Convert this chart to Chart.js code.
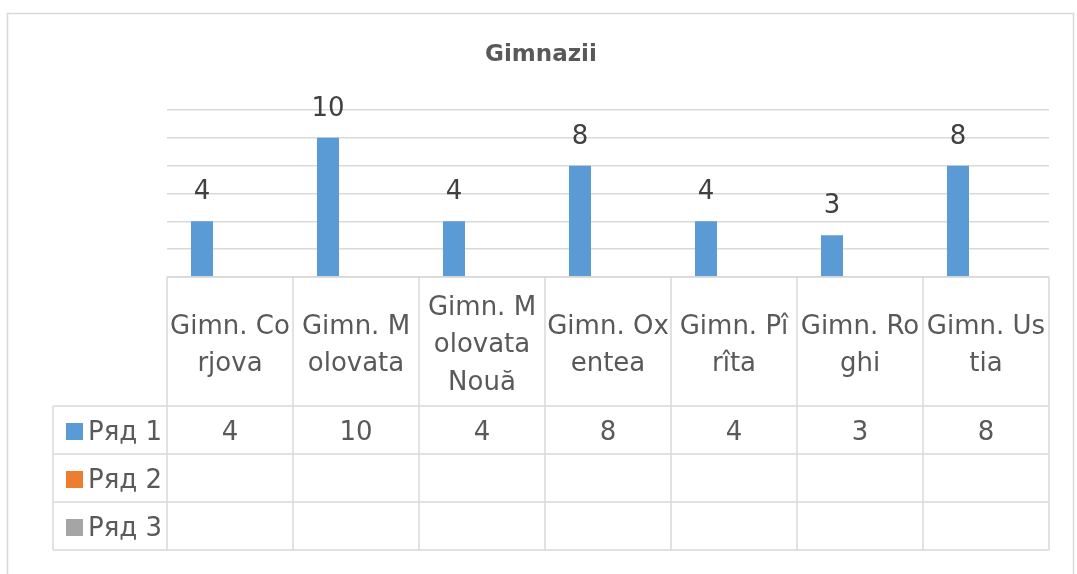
<!DOCTYPE html>
<html>
<head>
<meta charset="utf-8">
<title>Gimnazii</title>
<script src="https://cdn.jsdelivr.net/npm/chart.js@4.4.1/dist/chart.umd.min.js"></script>
<style>
  html, body { margin: 0; padding: 0; background: #ffffff; }
  #wrap { width: 1077px; height: 574px; position: relative; }
</style>
</head>
<body>
<div id="wrap"><canvas id="chart" width="1077" height="574"></canvas></div>
<script>
const chartTitle = "Gimnazii";
const categories = [
  "Gimn. Corjova", "Gimn. Molovata", "Gimn. Molovata Nouă",
  "Gimn. Oxentea", "Gimn. Pîrîta", "Gimn. Roghi", "Gimn. Ustia"
];
// wrapped the same way as in the data table of the picture
const categoryLines = [
  ["Gimn. Co", "rjova"],
  ["Gimn. M", "olovata"],
  ["Gimn. M", "olovata", "Nouă"],
  ["Gimn. Ox", "entea"],
  ["Gimn. Pî", "rîta"],
  ["Gimn. Ro", "ghi"],
  ["Gimn. Us", "tia"]
];
const seriesNames = ["Ряд 1", "Ряд 2", "Ряд 3"];
const series1 = [4, 10, 4, 8, 4, 3, 8];
const series2 = [null, null, null, null, null, null, null];
const series3 = [null, null, null, null, null, null, null];
const seriesColors = ["#5B9BD5", "#ED7D31", "#A5A5A5"];
const yMax = 12;
const yStep = 2;

const FONT = "'DejaVu Sans', sans-serif";
const TEXT = "#595959";
const LINE = "#D9D9D9";

const allSeries = [series1, series2, series3];

// title, frame and the data table under the plot, laid out from the x scale
const tablePlugin = {
  id: "dataTable",
  afterDraw(chart) {
    const ctx = chart.ctx;
    const x = chart.scales.x;
    const area = chart.chartArea;
    const n = categories.length;
    const colW = (area.right - area.left) / n;
    const headTop = area.bottom;
    const headBottom = headTop + 129;
    const rowH = 48;
    const legendLeft = 53;

    ctx.save();
    ctx.strokeStyle = LINE;
    ctx.lineWidth = 1.5;
    ctx.strokeRect(7.5, 13.5, 1066, 620);

    ctx.fillStyle = TEXT;
    ctx.font = "bold 23px " + FONT;
    ctx.textAlign = "center";
    ctx.textBaseline = "middle";
    ctx.fillText(chartTitle, 541, 55);

    ctx.beginPath();
    for (let i = 0; i <= n; i++) {
      const cx = area.left + i * colW;
      ctx.moveTo(cx, headTop);
      ctx.lineTo(cx, headBottom + rowH * allSeries.length);
    }
    ctx.moveTo(legendLeft, headBottom);
    ctx.lineTo(legendLeft, headBottom + rowH * allSeries.length);
    for (let r = 0; r <= allSeries.length; r++) {
      const ry = headBottom + r * rowH;
      ctx.moveTo(legendLeft, ry);
      ctx.lineTo(area.right, ry);
    }
    ctx.moveTo(area.left, headTop);
    ctx.lineTo(area.right, headTop);
    ctx.stroke();

    ctx.font = "26px " + FONT;
    const lineH = 37.5;
    const headMid = (headTop + headBottom) / 2 + 4;
    categoryLines.forEach((lines, i) => {
      const cx = x.getPixelForValue(i);
      const start = headMid - (lines.length - 1) * lineH / 2;
      lines.forEach((t, k) => ctx.fillText(t, cx, start + k * lineH));
    });

    allSeries.forEach((values, r) => {
      const cy = headBottom + r * rowH + rowH / 2 + 3;
      values.forEach((v, i) => {
        if (v === null) return;
        ctx.textAlign = "center";
        ctx.fillText(String(v), x.getPixelForValue(i), cy);
      });
      ctx.fillStyle = seriesColors[r];
      ctx.fillRect(66, cy - 10, 17, 17);
      ctx.fillStyle = TEXT;
      ctx.textAlign = "left";
      ctx.fillText(seriesNames[r], 88, cy);
    });
    ctx.restore();
  }
};

// value labels above the bars
const labelPlugin = {
  id: "barLabels",
  afterDatasetsDraw(chart) {
    const ctx = chart.ctx;
    const meta = chart.getDatasetMeta(0);
    ctx.save();
    ctx.fillStyle = "#404040";
    ctx.font = "26px " + FONT;
    ctx.textAlign = "center";
    ctx.textBaseline = "alphabetic";
    meta.data.forEach((bar, i) => {
      ctx.fillText(String(series1[i]), bar.x, bar.y - 22);
    });
    ctx.restore();
  }
};

new Chart(document.getElementById("chart"), {
  type: "bar",
  data: {
    labels: categories,
    datasets: allSeries.map((d, i) => ({
      label: seriesNames[i],
      data: d,
      backgroundColor: seriesColors[i],
      categoryPercentage: 0.667,
      barPercentage: 0.786
    }))
  },
  options: {
    responsive: false,
    animation: false,
    layout: { padding: { left: 167, right: 28, top: 110, bottom: 297 } },
    plugins: {
      legend: { display: false },
      tooltip: { enabled: false },
      title: { display: false }
    },
    scales: {
      x: { display: false },
      y: {
        min: 0,
        max: yMax,
        ticks: { display: false, stepSize: yStep },
        border: { display: false },
        grid: { color: LINE, lineWidth: 1.5, drawTicks: false }
      }
    }
  },
  plugins: [tablePlugin, labelPlugin]
});
</script>
</body>
</html>
